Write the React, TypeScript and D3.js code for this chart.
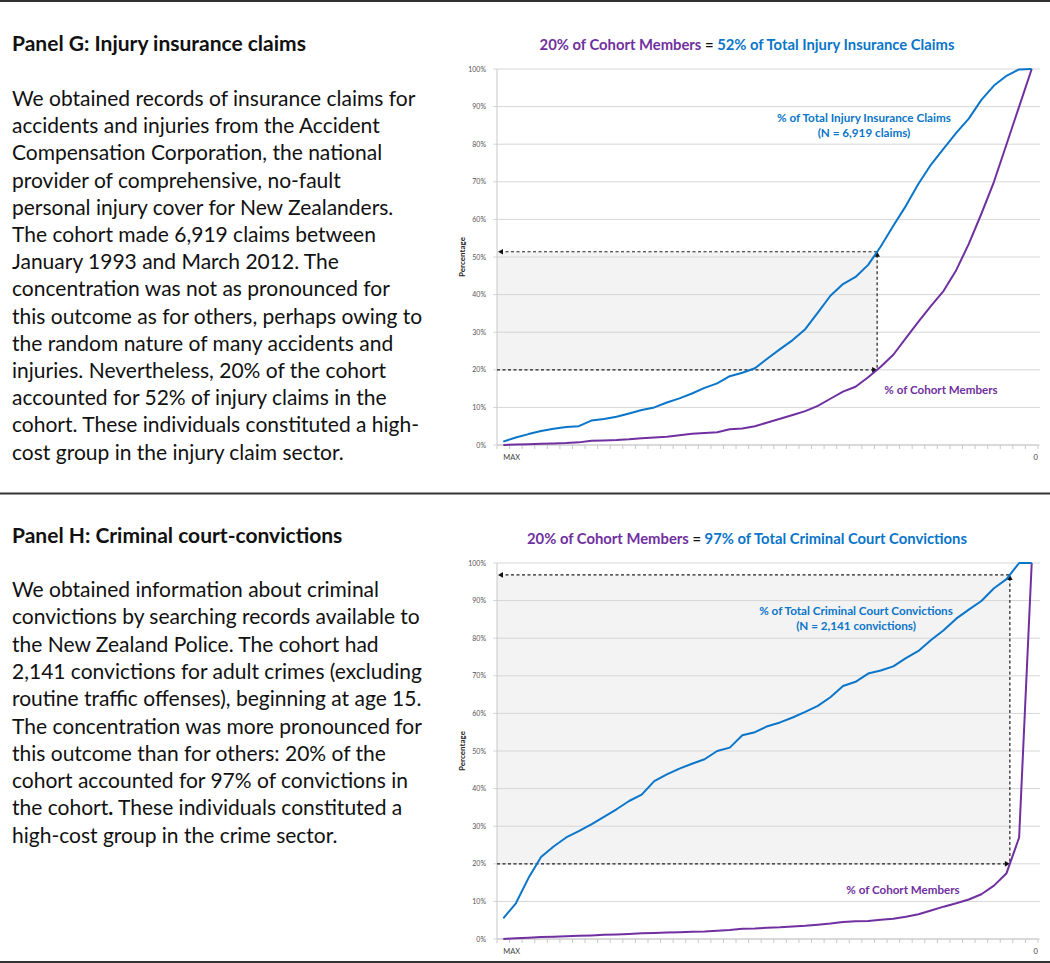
import React from "react";
import * as d3 from "d3";

// ---------- DATA ----------
const categories: string[] = ["MAX", ...Array(41).fill(""), "0"];
const yTicks = [0, 10, 20, 30, 40, 50, 60, 70, 80, 90, 100];
const cohortThreshold = 20;

const injuryClaimsPct = [
  0.9, 2.0, 2.9, 3.7, 4.3, 4.8, 5.0, 6.5, 6.9, 7.5, 8.4, 9.3, 10.0, 11.3, 12.4,
  13.7, 15.2, 16.4, 18.3, 19.2, 20.4, 23.0, 25.5, 27.9, 30.8, 35.2, 39.7, 42.8,
  44.7, 47.9, 52.8, 58.3, 63.6, 69.5, 74.6, 78.8, 83.0, 86.8, 91.8, 95.6, 98.2,
  99.9, 100,
];
const injuryCohortPct = [
  0, 0.1, 0.2, 0.3, 0.4, 0.5, 0.7, 1.1, 1.2, 1.3, 1.5, 1.8, 2.0, 2.2, 2.6, 3.0,
  3.2, 3.4, 4.2, 4.4, 5.0, 6.0, 7.0, 8.0, 9.0, 10.4, 12.3, 14.2, 15.5, 18.0,
  20.8, 24.0, 28.4, 32.8, 37.0, 41.0, 46.5, 53.5, 61.5, 70.0, 80.0, 90.0, 100,
];
const convictionsPct = [
  5.5, 9.5, 16.2, 21.8, 24.6, 27.0, 28.7, 30.5, 32.5, 34.5, 36.7, 38.4, 42.0,
  43.8, 45.3, 46.6, 47.8, 50.0, 50.9, 54.2, 55.0, 56.6, 57.6, 58.9, 60.4, 62.0,
  64.3, 67.3, 68.4, 70.6, 71.4, 72.5, 74.7, 76.6, 79.5, 82.1, 85.2, 87.6, 89.9,
  93.3, 95.7, 100, 100,
];
const convictionCohortPct = [
  0, 0.2, 0.35, 0.5, 0.6, 0.7, 0.85, 0.95, 1.1, 1.2, 1.35, 1.5, 1.6, 1.7, 1.8,
  1.9, 2.0, 2.2, 2.4, 2.7, 2.8, 3.0, 3.1, 3.3, 3.5, 3.8, 4.1, 4.5, 4.7, 4.8,
  5.1, 5.4, 5.9, 6.6, 7.6, 8.6, 9.5, 10.5, 11.9, 14.2, 17.5, 27.0, 100,
];

const injuryHeading = "Panel G: Injury insurance claims";
const injuryBody = [
  "We obtained records of insurance claims for",
  "accidents and injuries from the Accident",
  "Compensation Corporation, the national",
  "provider of comprehensive, no-fault",
  "personal injury cover for New Zealanders.",
  "The cohort made 6,919 claims between",
  "January 1993 and March 2012. The",
  "concentration was not as pronounced for",
  "this outcome as for others, perhaps owing to",
  "the random nature of many accidents and",
  "injuries. Nevertheless, 20% of the cohort",
  "accounted for 52% of injury claims in the",
  "cohort. These individuals constituted a high-",
  "cost group in the injury claim sector.",
];
const convictionHeading = "Panel H: Criminal court-convictions";
const convictionBody = [
  "We obtained information about criminal",
  "convictions by searching records available to",
  "the New Zealand Police. The cohort had",
  "2,141 convictions for adult crimes (excluding",
  "routine traffic offenses), beginning at age 15.",
  "The concentration was more pronounced for",
  "this outcome than for others: 20% of the",
  "cohort accounted for 97% of convictions in",
  "the cohort**.** These individuals constituted a",
  "high-cost group in the crime sector.",
];

const injuryTitleParts = ["20% of Cohort Members", " = ", "52% of Total Injury Insurance Claims"];
const convictionTitleParts = ["20% of Cohort Members", " = ", "97% of Total Criminal Court Convictions"];
const injuryOutcomeLabel = ["% of Total Injury Insurance Claims", "(N = 6,919 claims)"];
const convictionOutcomeLabel = ["% of Total Criminal Court Convictions", "(N = 2,141 convictions)"];
const cohortLabel = "% of Cohort Members";

// ---------- STYLE ----------
const BLUE = "#0a75c9";
const PURPLE = "#7030a0";
const FONT = "Lato, 'Open Sans', sans-serif";

function RichLine({ text, x, y, size }: { text: string; x: number; y: number; size: number }) {
  const parts = text.split(/\*\*(.*?)\*\*/);
  return (
    <text x={x} y={y} fontSize={size} fontFamily={FONT} fill="#111">
      {parts.map((p, i) => (
        <tspan key={i} fontWeight={i % 2 === 1 ? 700 : 400}>
          {p}
        </tspan>
      ))}
    </text>
  );
}

function crossing(values: number[], level: number) {
  for (let i = 0; i < values.length - 1; i++) {
    if (values[i] <= level && values[i + 1] > level) {
      return i + (level - values[i]) / (values[i + 1] - values[i]);
    }
  }
  return values.length - 1;
}
function valueAt(values: number[], fi: number) {
  const i = Math.floor(fi);
  const t = fi - i;
  if (i >= values.length - 1) return values[values.length - 1];
  return values[i] + t * (values[i + 1] - values[i]);
}

type ChartProps = {
  top: number;
  bottom: number;
  outcome: number[];
  cohort: number[];
  titleParts: string[];
  titleY: number;
  outcomeLabel: string[];
  outcomeLabelX: number;
  outcomeLabelY: number;
  cohortLabelX: number;
  cohortLabelY: number;
};

function Chart(p: ChartProps) {
  const left = 497;
  const right = 1038;
  const x = d3
    .scalePoint<number>()
    .domain(categories.map((_, i) => i))
    .range([left, right])
    .padding(0.5);
  const step = x.step();
  const y = d3.scaleLinear().domain([0, 100]).range([p.bottom, p.top]);
  const line = d3
    .line<number>()
    .x((_, i) => x(i) as number)
    .y((d) => y(d));

  const fi = crossing(p.cohort, cohortThreshold);
  const xv = (x(0) as number) + fi * step;
  const outVal = valueAt(p.outcome, fi);
  const yOut = y(outVal);
  const y20 = y(cohortThreshold);
  const dash = { stroke: "#222", strokeWidth: 1.2, strokeDasharray: "3 2.5", fill: "none" };
  const ah = 4;

  return (
    <g>
      {/* title */}
      <text x={747} y={p.titleY} textAnchor="middle" fontFamily={FONT} fontWeight={700} fontSize={14.8}>
        <tspan fill={PURPLE}>{p.titleParts[0]}</tspan>
        <tspan fill="#111">{p.titleParts[1]}</tspan>
        <tspan fill={BLUE}>{p.titleParts[2]}</tspan>
      </text>

      {/* shaded area */}
      <rect x={left} y={yOut} width={xv - left} height={y20 - yOut} fill="#f3f3f3" />

      {/* gridlines */}
      {yTicks.map((t) => (
        <g key={t}>
          <line x1={left - 4} x2={1040} y1={y(t)} y2={y(t)} stroke="#d6d6d6" strokeWidth={1} />
          <text x={486} y={y(t) + 2.5} textAnchor="end" fontSize={7} fontFamily={FONT} fill="#555">
            {t}%
          </text>
        </g>
      ))}
      {/* axes */}
      <line x1={left} x2={left} y1={p.top} y2={p.bottom} stroke="#c8c8c8" strokeWidth={1} />
      <line x1={left} x2={right} y1={p.bottom} y2={p.bottom} stroke="#c8c8c8" strokeWidth={1} />
      {d3.range(categories.length + 1).map((k) => (
        <line
          key={k}
          x1={left + k * step}
          x2={left + k * step}
          y1={p.bottom}
          y2={p.bottom + 4}
          stroke="#c8c8c8"
          strokeWidth={1}
        />
      ))}
      {categories.map((c, i) =>
        c ? (
          <text
            key={i}
            x={(x(i) as number) + (i === 0 ? 0 : 4)}
            y={p.bottom + 15}
            textAnchor={i === 0 ? "start" : "middle"}
            fontSize={7.5}
            fontFamily={FONT}
            fill="#444"
          >
            {c}
          </text>
        ) : null
      )}
      <text
        transform={`translate(465,${(p.top + p.bottom) / 2}) rotate(-90)`}
        textAnchor="middle"
        fontSize={8}
        fontWeight={700}
        fontFamily={FONT}
        fill="#222"
      >
        Percentage
      </text>

      {/* dashed annotation */}
      <line x1={left + 3} x2={xv} y1={yOut} y2={yOut} {...dash} />
      <line x1={left} x2={xv - 3} y1={y20} y2={y20} {...dash} />
      <line x1={xv} x2={xv} y1={yOut + 3} y2={y20} {...dash} />
      <path d={`M${left + 1},${yOut} l${ah + 1},${-ah / 1.4} v${(2 * ah) / 1.4} z`} fill="#111" />
      <path d={`M${xv},${yOut} l${-ah / 1.4},${ah + 1} h${(2 * ah) / 1.4} z`} fill="#111" />
      <path d={`M${xv},${y20} l${-ah - 1},${-ah / 1.4} v${(2 * ah) / 1.4} z`} fill="#111" />

      {/* series */}
      <path d={line(p.cohort) || ""} fill="none" stroke={PURPLE} strokeWidth={2} strokeLinejoin="round" />
      <path d={line(p.outcome) || ""} fill="none" stroke={BLUE} strokeWidth={2} strokeLinejoin="round" />

      {/* labels */}
      <text textAnchor="middle" fontFamily={FONT} fontWeight={700} fontSize={11.7} fill={BLUE}>
        <tspan x={p.outcomeLabelX} y={p.outcomeLabelY}>
          {p.outcomeLabel[0]}
        </tspan>
        <tspan x={p.outcomeLabelX} y={p.outcomeLabelY + 15}>
          {p.outcomeLabel[1]}
        </tspan>
      </text>
      <text
        x={p.cohortLabelX}
        y={p.cohortLabelY}
        textAnchor="middle"
        fontFamily={FONT}
        fontWeight={700}
        fontSize={11.6}
        fill={PURPLE}
      >
        {cohortLabel}
      </text>
    </g>
  );
}

export default function App() {
  const bodySize = 21;
  const lineGap = 27.2;
  return (
    <svg
      width={1050}
      height={963}
      style={{ position: "absolute", left: 0, top: 0, background: "#fff" }}
    >
      <rect width={1050} height={963} fill="#fff" />
      <line x1={0} x2={1050} y1={1} y2={1} stroke="#333" strokeWidth={2} />
      <line x1={0} x2={1050} y1={493.5} y2={493.5} stroke="#333" strokeWidth={2} />
      <line x1={0} x2={1050} y1={962} y2={962} stroke="#333" strokeWidth={2} />

      <text x={12} y={51} fontSize={21} fontWeight={700} fontFamily={FONT} fill="#111">
        {injuryHeading}
      </text>
      {injuryBody.map((l, i) => (
        <RichLine key={i} text={l} x={12} y={106 + i * lineGap} size={bodySize} />
      ))}
      <text x={12} y={543} fontSize={21} fontWeight={700} fontFamily={FONT} fill="#111">
        {convictionHeading}
      </text>
      {convictionBody.map((l, i) => (
        <RichLine key={i} text={l} x={12} y={597 + i * 27.3} size={bodySize} />
      ))}

      <Chart
        top={69}
        bottom={445}
        outcome={injuryClaimsPct}
        cohort={injuryCohortPct}
        titleParts={injuryTitleParts}
        titleY={50}
        outcomeLabel={injuryOutcomeLabel}
        outcomeLabelX={864}
        outcomeLabelY={122}
        cohortLabelX={941}
        cohortLabelY={394}
      />
      <Chart
        top={563}
        bottom={939}
        outcome={convictionsPct}
        cohort={convictionCohortPct}
        titleParts={convictionTitleParts}
        titleY={544}
        outcomeLabel={convictionOutcomeLabel}
        outcomeLabelX={856}
        outcomeLabelY={615}
        cohortLabelX={903}
        cohortLabelY={894}
      />
    </svg>
  );
}
